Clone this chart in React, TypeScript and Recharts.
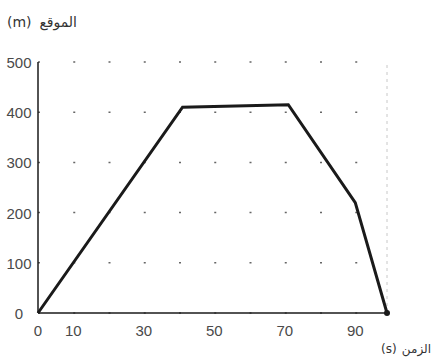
import React from "react";
import { LineChart, Line, XAxis, YAxis, CartesianGrid, ReferenceLine } from "recharts";

// position-time graph
const times = [0, 41, 71, 90, 99];
const positions = [0, 410, 415, 220, 0];
const timeTicks = [0, 10, 30, 50, 70, 90];
const posTicks = [0, 100, 200, 300, 400, 500];

const data = times.map((t, i) => ({ t, pos: positions[i] }));

const INK = "#1a1a1a";
const TEXT = "#4a4a4a";
const FONT = "'Liberation Sans', 'DejaVu Sans', sans-serif";
const AR_FONT = "'DejaVu Sans', sans-serif";

function YTick({ y, payload }: any) {
  return (
    <text x={19} y={y} dy={6} textAnchor="middle" fontSize={15} fill={TEXT} fontFamily={FONT}>
      {payload.value}
    </text>
  );
}

function EndDot(props: any) {
  const { cx, cy, index } = props;
  if (index !== data.length - 1) return <g key={`d${index}`} />;
  return <circle key={`d${index}`} cx={cx} cy={cy} r={3} fill={INK} />;
}

export default function App() {
  return (
    <div style={{ position: "absolute", left: 0, top: 0, width: 434, height: 363, background: "#fff" }}>
      <LineChart width={434} height={363} data={data} margin={{ top: 62, right: 47, bottom: 20, left: 8 }}>
        <CartesianGrid vertical={false} stroke="#666" strokeWidth={1.5} strokeDasharray="2 33.25" />
        <ReferenceLine x={99} stroke="#c8c8c8" strokeDasharray="3 4" />
        <XAxis
          dataKey="t"
          type="number"
          domain={[0, 99]}
          ticks={timeTicks}
          height={30}
          tickLine={false}
          tickSize={6}
          tickMargin={6}
          axisLine={{ stroke: INK, strokeWidth: 1.5 }}
          tick={{ fontSize: 15, fill: TEXT, fontFamily: FONT }}
          interval={0}
        />
        <YAxis
          type="number"
          domain={[0, 500]}
          ticks={posTicks}
          width={30}
          tickLine={false}
          axisLine={{ stroke: INK, strokeWidth: 1.5 }}
          tick={<YTick />}
          interval={0}
        />
        <Line
          type="linear"
          dataKey="pos"
          stroke={INK}
          strokeWidth={3}
          dot={EndDot}
          activeDot={false}
          isAnimationActive={false}
        />
      </LineChart>
      {/* axis titles: unit on the left, Arabic name on the right */}
      <svg width={434} height={363} style={{ position: "absolute", left: 0, top: 0, pointerEvents: "none" }}>
        <g fill="#333" fontFamily={AR_FONT} direction="ltr">
          <text x={7} y={27} fontSize={14} textAnchor="start">(m)</text>
          <text x={77} y={27} fontSize={14} textAnchor="end">الموقع</text>
          <text x={381} y={353} fontSize={12} textAnchor="start">(s)</text>
          <text x={431} y={353} fontSize={12} textAnchor="end">الزمن</text>
        </g>
      </svg>
    </div>
  );
}
